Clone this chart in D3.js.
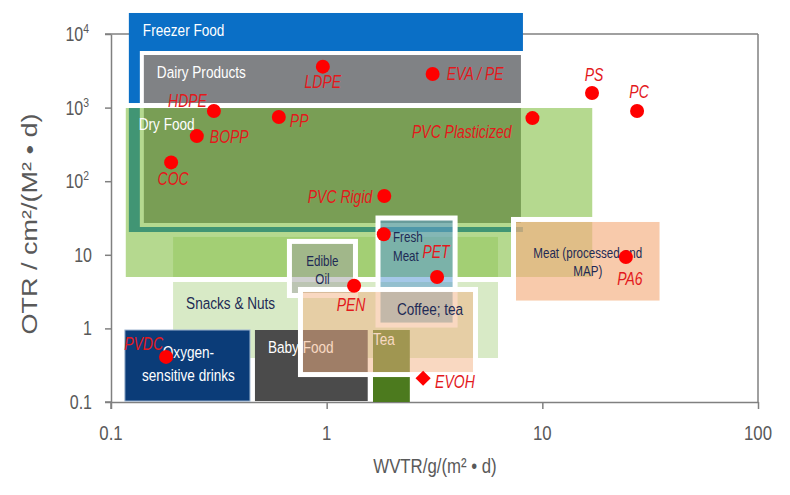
<!DOCTYPE html>
<html>
<head>
<meta charset="utf-8">
<script src="https://cdn.jsdelivr.net/npm/d3@7"></script>
<style>
  body { margin: 0; background: #fff; }
  svg { display: block; font-family: "Liberation Sans", Arial, sans-serif; }
</style>
</head>
<body>
<div id="chart"></div>
<script>
// packaging applications: WVTR range (g/(m2 d)) and OTR range (cm3/(m2 d))
var applications = ["Freezer Food", "Dairy Products", "Snacks & Nuts", "Dry Food", "Edible Oil",
    "Fresh Meat", "Oxygen-sensitive drinks", "Baby Food", "Tea", "Coffee; tea", "Meat (processed and MAP)"];
var wvtrMin = [0.121, 0.139, 0.194, 0.114, 0.672, 1.73, 0.116, 0.465, 1.64, 0.756, 7.35];
var wvtrMax = [8.13, 8.13, 6.23, 17.5, 1.36, 3.94, 0.441, 1.55, 2.43, 4.90, 35.9];
var otrMin = [20.4, 25.4, 0.396, 4.62, 2.80, 1.11, 0.103, 0.103, 0.100, 0.236, 2.21];
var otrMax = [19300, 5520, 17.5, 1067, 15.2, 31.6, 0.951, 0.951, 0.951, 3.38, 30.2];

// barrier materials
var materials = ["LDPE", "EVA / PE", "HDPE", "PP", "BOPP", "COC", "PVC Plasticized", "PVC Rigid",
    "PS", "PC", "PA6", "", "PET", "PEN", "PVDC", "EVOH"];
var matWvtr = [0.96, 3.1, 0.30, 0.60, 0.25, 0.19, 9.0, 1.85, 17, 27.5, 24.4, 1.84, 3.25, 1.34, 0.18, 2.8];
var matOtr = [3600, 2860, 900, 745, 410, 180, 720, 63, 1580, 900, 9.3, 19, 5.0, 3.8, 0.41, 0.21];

var xTicks = [0.1, 1, 10, 100];
var yTicks = [0.1, 1, 10, 100, 1000, 10000];
var xTitle = "WVTR/g/(m\u00b2 \u2022 d)";
var yTitle = "OTR / cm\u00b2/(M\u00b2 \u2022 d)";

var width = 790, height = 495;
var sx = 0.8;          // the picture's text is horizontally squeezed
var axisColor = "#808080", tickText = "#595959", navy = "#1E2A55";

var boxStyle = {
    "Freezer Food": { fill: "#0A6FC6" },
    "Dairy Products": { fill: "#808285", stroke: "#fff", sw: 4 },
    "Snacks & Nuts": { fill: "#D8EAC6" },
    "Dry Food": { fill: "#73B72B", op: 0.53, stroke: "#fff", sw: 5 },
    "Edible Oil": { fill: "#A0A0A0", op: 0.5, stroke: "#fff", sw: 5 },
    "Fresh Meat": { fill: "#5B9BD5", op: 0.55, stroke: "#fff", sw: 5 },
    "Oxygen-sensitive drinks": { fill: "#0B3C78", stroke: "#9FB5D0", sw: 1 },
    "Baby Food": { fill: "#4B4B4B" },
    "Tea": { fill: "#4C7A1E" },
    "Coffee; tea": { fill: "#F4B183", op: 0.5, stroke: "#fff", sw: 5 },
    "Meat (processed and MAP)": { fill: "#F4B183", op: 0.68, stroke: "#fff", sw: 5 }
};
var boxLabel = {
    "Freezer Food": { lines: ["Freezer Food"], dx: 14, dy: 23, color: "#fff", size: 17 },
    "Dairy Products": { lines: ["Dairy Products"], dx: 15, dy: 25, color: "#fff", size: 17 },
    "Snacks & Nuts": { lines: ["Snacks & Nuts"], dx: 13, dy: 72, color: navy, size: 17 },
    "Dry Food": { lines: ["Dry Food"], dx: 15.5, dy: 24.5, color: "#fff", size: 17 },
    "Edible Oil": { lines: ["Edible", "Oil"], anchor: "middle", dx: 0, dy: 24.5, lh: 18, color: navy, size: 14.5 },
    "Fresh Meat": { lines: ["Fresh", "Meat"], dx: 15, dy: 24, lh: 19, color: navy, size: 14.5 },
    "Oxygen-sensitive drinks": { lines: ["Oxygen-", "sensitive drinks"], anchor: "middle", dx: 1, dy: 28, lh: 23, color: "#fff", size: 17 },
    "Baby Food": { lines: ["Baby Food"], dx: 13, dy: 23, color: "#fff", size: 17 },
    "Tea": { lines: ["Tea"], dx: 0, dy: 15, color: "#fff", size: 17 },
    "Coffee; tea": { lines: ["Coffee; tea"], dx: 96.5, dy: 25.5, color: navy, size: 17 },
    "Meat (processed and MAP)": { lines: ["Meat (processed and", "MAP)"], anchor: "middle", dx: 0, dy: 38.5, lh: 18, color: navy, size: 14.5 }
};
// material label placement: anchor, dx, dy from the marker
var matLabel = {
    "LDPE": ["middle", 0, 21], "EVA / PE": ["start", 14, 6], "HDPE": ["end", -7, -4],
    "PP": ["start", 11, 10], "BOPP": ["start", 13, 7], "COC": ["middle", 2, 23],
    "PVC Plasticized": ["end", -21, 20], "PVC Rigid": ["end", -12, 7], "PS": ["middle", 2, -12],
    "PC": ["middle", 2, -13], "PA6": ["middle", 4, 28], "PET": ["middle", -1, -19],
    "PEN": ["middle", -3, 25], "PVDC": ["end", -3, -7], "EVOH": ["start", 12, 10]
};

var x = d3.scaleLog().domain([0.1, 100]).range([111, 758]);
var y = d3.scaleLog().domain([0.1, 10000]).range([402, 34]);

var svg = d3.select("#chart").append("svg")
    .attr("width", width)
    .attr("height", height);

function squeezed(parent, px, py, lines, o) {
    var g = parent.append("g")
        .attr("transform", "translate(" + px + "," + py + ") scale(" + sx + ",1)" + (o.rotate ? " rotate(" + o.rotate + ")" : ""));
    var t = g.append("text")
        .attr("text-anchor", o.anchor || "start")
        .attr("fill", o.color)
        .style("font-size", o.size + "px");
    if (o.italic) t.style("font-style", "italic");
    lines.forEach(function (l, i) {
        t.append("tspan").attr("x", 0).attr("y", i * (o.lh || 0)).text(l);
    });
    return t;
}

// frame and axes
var gx = svg.append("g")
    .attr("transform", "translate(0," + y(0.1) + ")")
    .call(d3.axisBottom(x).tickValues(xTicks).tickSize(7).tickSizeOuter(0).tickFormat(""));
var gy = svg.append("g")
    .attr("transform", "translate(" + x(0.1) + ",0)")
    .call(d3.axisLeft(y).tickValues(yTicks).tickSize(6).tickSizeOuter(0).tickFormat(""));
[gx, gy].forEach(function (g) {
    g.selectAll("path, line").attr("stroke", axisColor).attr("stroke-width", 1.5);
});
var frame = [
    [x(0.1) - 6, y(10000), x(100), y(10000)],
    [x(100), y(10000), x(100), y(0.1)],
    [x(0.1) - 6, y(0.1), x(0.1), y(0.1)],
    [x(0.1), y(0.1), x(0.1), y(0.1) + 7]
];
svg.append("g").selectAll("line").data(frame).join("line")
    .attr("x1", function (d) { return d[0]; }).attr("y1", function (d) { return d[1]; })
    .attr("x2", function (d) { return d[2]; }).attr("y2", function (d) { return d[3]; })
    .attr("stroke", axisColor).attr("stroke-width", 1.5);

// application zones, drawn in order
var zones = svg.append("g");
applications.forEach(function (name, i) {
    var s = boxStyle[name];
    var x0 = x(wvtrMin[i]), x1 = x(wvtrMax[i]), y0 = y(otrMax[i]), y1 = y(otrMin[i]);
    zones.append("rect")
        .attr("x", x0).attr("y", y0)
        .attr("width", x1 - x0).attr("height", y1 - y0)
        .attr("fill", s.fill)
        .attr("fill-opacity", s.op || 1)
        .attr("stroke", s.stroke || "none")
        .attr("stroke-width", s.sw || 0);
    var l = boxLabel[name];
    var bx = l.anchor === "middle" ? (x0 + x1) / 2 : x0;
    squeezed(zones, bx + l.dx, y0 + l.dy, l.lines, l);
});

// materials
var pts = svg.append("g");
materials.forEach(function (name, i) {
    var cx = x(matWvtr[i]), cy = y(matOtr[i]);
    if (name === "EVOH") {
        pts.append("path")
            .attr("d", d3.symbol(d3.symbolSquare, 115)())
            .attr("transform", "translate(" + cx + "," + cy + ") rotate(45)")
            .attr("fill", "#FF0000");
    } else {
        pts.append("circle").attr("cx", cx).attr("cy", cy).attr("r", 7).attr("fill", "#FF0000");
    }
    if (!name) return;
    var p = matLabel[name];
    squeezed(pts, cx + p[1], cy + p[2], [name], { anchor: p[0], color: "#E3191C", size: 17.5, italic: true });
});

// tick labels
xTicks.forEach(function (v) {
    squeezed(svg, x(v), y(0.1) + 38, [String(v)], { anchor: "middle", color: tickText, size: 21 });
});
yTicks.forEach(function (v) {
    var t;
    if (v >= 100) {
        t = squeezed(svg, x(0.1) - 22, y(v) + 7, [], { anchor: "end", color: tickText, size: 20 });
        t.append("tspan").text("10");
        t.append("tspan").attr("dy", -8).style("font-size", "13px").text(Math.round(Math.log10(v)));
    } else {
        squeezed(svg, x(0.1) - 19, y(v) + 7, [String(v)], { anchor: "end", color: tickText, size: 20 });
    }
});

// axis titles
squeezed(svg, 435, 473, [xTitle], { anchor: "middle", color: tickText, size: 21 });
squeezed(svg, 37, 224, [yTitle], { anchor: "middle", color: tickText, size: 27, rotate: -90 });
</script>
</body>
</html>
